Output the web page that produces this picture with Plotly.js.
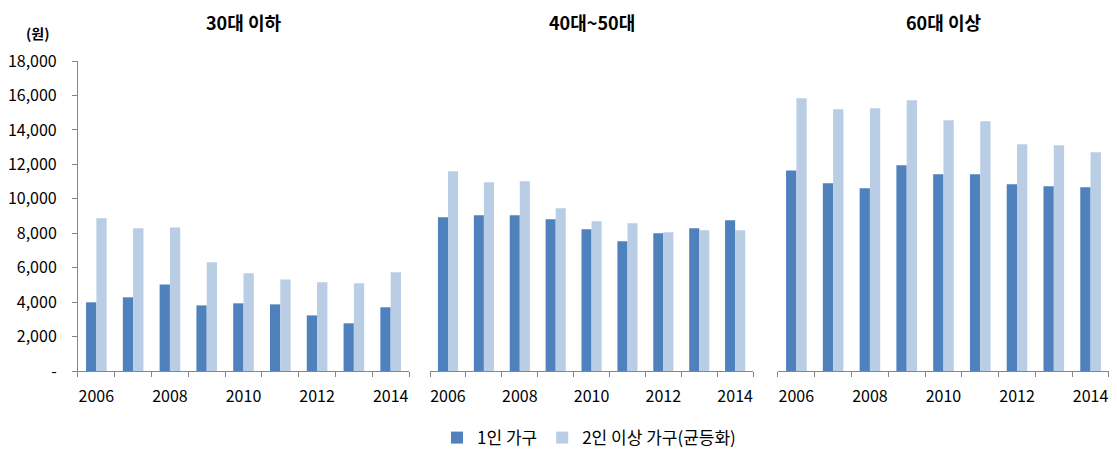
<!DOCTYPE html>
<html>
<head>
<meta charset="utf-8">
<script src="https://cdn.plot.ly/plotly-3.0.1.min.js"></script>
<style>html,body{margin:0;padding:0;background:#fff;}#chart{width:1117px;height:470px;}</style>
</head>
<body>
<div id="chart"></div>
<script>
const years = [2006, 2007, 2008, 2009, 2010, 2011, 2012, 2013, 2014];
const panelTitles = ['30대 이하', '40대~50대', '60대 이상'];
const seriesNames = ['1인 가구', '2인 이상 가구(균등화)'];
const single_u30 = [3990, 4280, 5030, 3810, 3930, 3870, 3230, 2770, 3700];
const multi_u30  = [8870, 8290, 8340, 6310, 5670, 5320, 5150, 5090, 5730];
const single_4050 = [8930, 9040, 9040, 8810, 8230, 7530, 8000, 8290, 8750];
const multi_4050  = [11600, 10960, 11020, 9450, 8690, 8580, 8060, 8170, 8170];
const single_60 = [11650, 10900, 10610, 11950, 11420, 11420, 10840, 10730, 10670];
const multi_60  = [15840, 15200, 15260, 15720, 14560, 14500, 13170, 13110, 12700];
const yTickVals = [0, 2000, 4000, 6000, 8000, 10000, 12000, 14000, 16000, 18000];
const yTickText = ['-', '2,000', '4,000', '6,000', '8,000', '10,000', '12,000', '14,000', '16,000', '18,000'];
const xTickVals = [2006, 2008, 2010, 2012, 2014];
const xTickText = ['2006', '2008', '2010', '2012', '2014'];
const yUnit = '(원)';

const C1 = '#4F81BD', C2 = '#B9CDE5';
const FONT = '"Noto Sans CJK KR", "Noto Sans", sans-serif';
const panels = [[single_u30, multi_u30], [single_4050, multi_4050], [single_60, multi_60]];
const traces = [];
panels.forEach((p, i) => {
  const xa = i === 0 ? 'x' : 'x' + (i + 1);
  const ya = i === 0 ? 'y' : 'y' + (i + 1);
  [0, 1].forEach(s => {
    traces.push({
      type: 'bar', x: years, y: p[s], name: seriesNames[s],
      marker: {color: s === 0 ? C1 : C2},
      xaxis: xa, yaxis: ya, showlegend: i === 0, legendgroup: 's' + s,
      hoverinfo: 'x+y'
    });
  });
});

const domains = [[0.0698, 0.3662], [0.385, 0.6742], [0.6965, 0.9928]];
const ydom = [0.2106, 0.8702];
const layout = {
  width: 1117, height: 470,
  margin: {l: 0, r: 0, t: 0, b: 0},
  paper_bgcolor: '#fff', plot_bgcolor: '#fff',
  font: {family: FONT, size: 16, color: '#000'},
  barmode: 'group', bargap: 0.44, bargroupgap: 0,
  showlegend: true,
  legend: {orientation: 'h', x: 437 / 1117, xanchor: 'left', y: 0.068, yanchor: 'middle',
           font: {family: FONT, size: 17, color: '#000'}, itemwidth: 30, traceorder: 'normal'},
  annotations: [],
};
domains.forEach((d, i) => {
  const sfx = i === 0 ? '' : String(i + 1);
  layout['xaxis' + sfx] = {
    domain: d, anchor: 'y' + sfx, range: [2005.5, 2014.5],
    tickmode: 'array', tickvals: xTickVals, ticktext: xTickText, ticks: '',
    minor: {tickmode: 'linear', tick0: 2005.5, dtick: 1, ticks: 'outside', ticklen: 5, tickcolor: '#868686', showgrid: false},
    showline: true, linecolor: '#868686', linewidth: 1, showgrid: false, zeroline: false,
    tickfont: {family: FONT, size: 16, color: '#000'}, ticklabelstandoff: 11, fixedrange: true
  };
  layout['yaxis' + sfx] = {
    domain: ydom, anchor: 'x' + sfx, range: [0, 18000],
    tickmode: 'array', tickvals: yTickVals, ticktext: yTickText,
    showticklabels: i === 0, ticks: i === 0 ? 'outside' : '', ticklen: 5, tickcolor: '#868686',
    showline: i === 0, linecolor: '#868686', linewidth: 1, showgrid: false, zeroline: false,
    tickfont: {family: FONT, size: 16, color: '#000'}, ticklabelstandoff: 12, fixedrange: true
  };
  layout.annotations.push({
    text: '<b>' + panelTitles[i] + '</b>', xref: 'paper', yref: 'paper',
    x: (d[0] + d[1]) / 2, y: (470 - 22) / 470, xanchor: 'center', yanchor: 'middle',
    showarrow: false, font: {family: FONT, size: 18, color: '#000'}
  });
});
layout.annotations.push({
  text: '<b>' + yUnit + '</b>', xref: 'paper', yref: 'paper',
  x: 37 / 1117, y: (470 - 33) / 470, xanchor: 'center', yanchor: 'middle',
  showarrow: false, font: {family: FONT, size: 14, color: '#000'}
});
Plotly.newPlot('chart', traces, layout, {displayModeBar: false, staticPlot: true});
</script>
</body>
</html>
